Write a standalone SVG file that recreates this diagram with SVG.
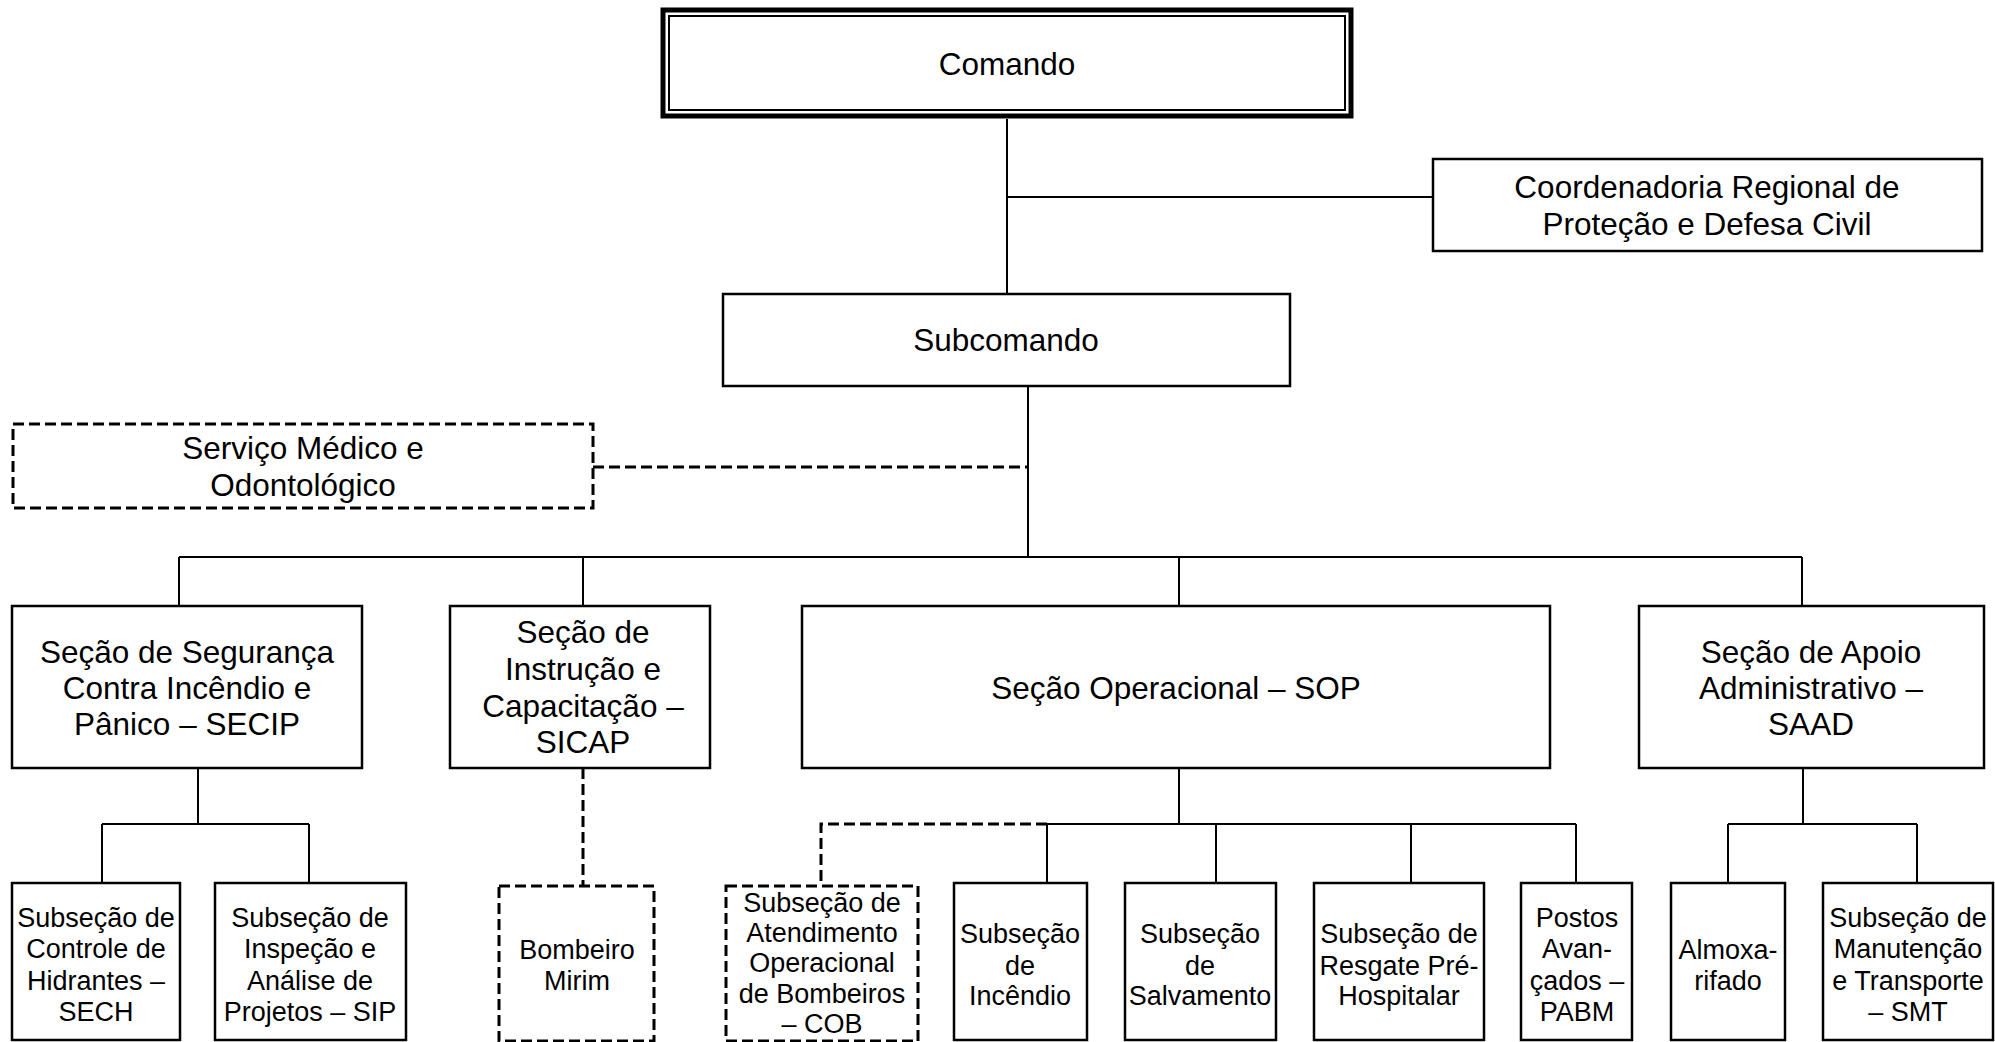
<svg xmlns="http://www.w3.org/2000/svg" width="1995" height="1042" viewBox="0 0 1995 1042">
<style>
.box{fill:#fff;stroke:#000;stroke-width:2.5}
.dbox{fill:#fff;stroke:#000;stroke-width:3;stroke-dasharray:11 5}
.ln{fill:none;stroke:#000;stroke-width:2}
.dl{fill:none;stroke:#000;stroke-width:3;stroke-dasharray:11 5}
text{font-family:"Liberation Sans",Arial,sans-serif;fill:#000;text-anchor:middle}
.b{font-size:31.5px}
.s{font-size:27px}
</style>
<rect width="1995" height="1042" fill="#fff"/>
<g id="connectors">
<path class="ln" d="M1007 119V294M1007 197H1433"/>
<path class="ln" d="M1028 386V557M179 557H1802M179 557V606M583 557V606M1179 557V606M1802 557V606"/>
<path class="dl" d="M593 467H1028"/>
<path class="ln" d="M198 768V824M102 824H309M102 824V883M309 824V883"/>
<path class="dl" d="M583 768V886"/>
<path class="ln" d="M1179 768V824M1047 824H1576M1047 824V883M1216 824V883M1411 824V883M1576 824V883"/>
<path class="dl" d="M1047 824H821V886"/>
<path class="ln" d="M1803 768V824M1728 824H1917M1728 824V883M1917 824V883"/>
</g>
<g id="comando">
<rect x="663" y="10" width="688" height="106" fill="#fff" stroke="#000" stroke-width="5"/>
<rect x="669" y="16" width="676" height="94" fill="none" stroke="#000" stroke-width="2"/>
<text class="b" x="1007" y="75">Comando</text>
</g>
<g id="coordenadoria">
<rect class="box" x="1433" y="159" width="549" height="92"/>
<text class="b" x="1707" y="198">Coordenadoria Regional de</text>
<text class="b" x="1707" y="235">Proteção e Defesa Civil</text>
</g>
<g id="subcomando">
<rect class="box" x="723" y="294" width="567" height="92"/>
<text class="b" x="1006" y="351">Subcomando</text>
</g>
<g id="medico">
<rect class="dbox" x="13" y="424" width="580" height="84"/>
<text class="b" x="303" y="459">Serviço Médico e</text>
<text class="b" x="303" y="496">Odontológico</text>
</g>
<g id="secip">
<rect class="box" x="12" y="606" width="350" height="162"/>
<text class="b" x="187" y="663">Seção de Segurança</text>
<text class="b" x="187" y="699">Contra Incêndio e</text>
<text class="b" x="187" y="735">Pânico – SECIP</text>
</g>
<g id="sicap">
<rect class="box" x="450" y="606" width="260" height="162"/>
<text class="b" x="583" y="643">Seção de</text>
<text class="b" x="583" y="680">Instrução e</text>
<text class="b" x="583" y="717">Capacitação –</text>
<text class="b" x="583" y="753">SICAP</text>
</g>
<g id="sop">
<rect class="box" x="802" y="606" width="748" height="162"/>
<text class="b" x="1176" y="699">Seção Operacional – SOP</text>
</g>
<g id="saad">
<rect class="box" x="1639" y="606" width="345" height="162"/>
<text class="b" x="1811" y="663">Seção de Apoio</text>
<text class="b" x="1811" y="699">Administrativo –</text>
<text class="b" x="1811" y="735">SAAD</text>
</g>
<g id="sech">
<rect class="box" x="12" y="883" width="168" height="157"/>
<text class="s" x="96" y="927">Subseção de</text>
<text class="s" x="96" y="958">Controle de</text>
<text class="s" x="96" y="990">Hidrantes –</text>
<text class="s" x="96" y="1021">SECH</text>
</g>
<g id="sip">
<rect class="box" x="215" y="883" width="191" height="157"/>
<text class="s" x="310" y="927">Subseção de</text>
<text class="s" x="310" y="958">Inspeção e</text>
<text class="s" x="310" y="990">Análise de</text>
<text class="s" x="310" y="1021">Projetos – SIP</text>
</g>
<g id="bombeiro-mirim">
<rect class="dbox" x="499" y="886" width="155" height="155"/>
<text class="s" x="577" y="959">Bombeiro</text>
<text class="s" x="577" y="990">Mirim</text>
</g>
<g id="cob">
<rect class="dbox" x="726" y="886" width="192" height="155"/>
<text class="s" x="822" y="912">Subseção de</text>
<text class="s" x="822" y="942">Atendimento</text>
<text class="s" x="822" y="972">Operacional</text>
<text class="s" x="822" y="1003">de Bombeiros</text>
<text class="s" x="822" y="1033">– COB</text>
</g>
<g id="incendio">
<rect class="box" x="954" y="883" width="133" height="157"/>
<text class="s" x="1020" y="943">Subseção</text>
<text class="s" x="1020" y="975">de</text>
<text class="s" x="1020" y="1005">Incêndio</text>
</g>
<g id="salvamento">
<rect class="box" x="1125" y="883" width="151" height="157"/>
<text class="s" x="1200" y="943">Subseção</text>
<text class="s" x="1200" y="975">de</text>
<text class="s" x="1200" y="1005">Salvamento</text>
</g>
<g id="resgate">
<rect class="box" x="1314" y="883" width="170" height="157"/>
<text class="s" x="1399" y="943">Subseção de</text>
<text class="s" x="1399" y="975">Resgate Pré-</text>
<text class="s" x="1399" y="1005">Hospitalar</text>
</g>
<g id="pabm">
<rect class="box" x="1521" y="883" width="111" height="157"/>
<text class="s" x="1577" y="927">Postos</text>
<text class="s" x="1577" y="958">Avan-</text>
<text class="s" x="1577" y="990">çados –</text>
<text class="s" x="1577" y="1021">PABM</text>
</g>
<g id="almoxarifado">
<rect class="box" x="1671" y="883" width="114" height="157"/>
<text class="s" x="1728" y="959">Almoxa-</text>
<text class="s" x="1728" y="990">rifado</text>
</g>
<g id="smt">
<rect class="box" x="1823" y="883" width="170" height="157"/>
<text class="s" x="1908" y="927">Subseção de</text>
<text class="s" x="1908" y="958">Manutenção</text>
<text class="s" x="1908" y="990">e Transporte</text>
<text class="s" x="1908" y="1021">– SMT</text>
</g>
</svg>
